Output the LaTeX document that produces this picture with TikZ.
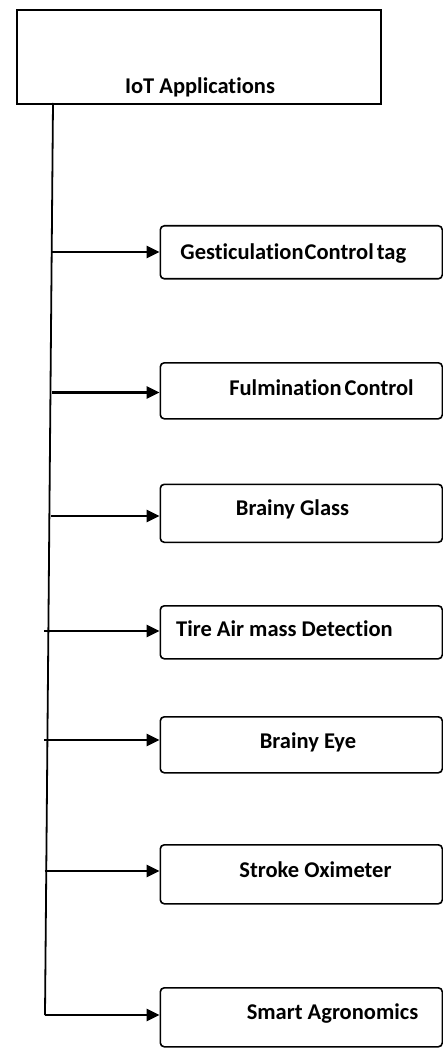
\documentclass[tikz,border=0pt]{standalone}
\usepackage{fontspec}
\setmainfont{Carlito}[Ligatures={NoCommon}]
\usetikzlibrary{arrows.meta}

\begin{document}
\begin{tikzpicture}[x=1pt,y=-1pt,
  rootbox/.style={draw, line width=1.8pt, rectangle, inner sep=0pt,
    minimum width=364pt, minimum height=94pt, anchor=north west},
  appbox/.style={draw, line width=1.6pt, rectangle, rounded corners=4pt,
    inner sep=0pt, minimum width=282pt, anchor=north west},
  lbl/.style={inner sep=0pt, anchor=base,
    font=\fontsize{22.5}{26}\selectfont\bfseries},
  trunk/.style={line width=1.8pt},
  feed/.style={line width=2.6pt, -{Triangle[length=13pt,width=12pt]}}
]
\useasboundingbox (0,0) rectangle (443,1048);

% root box
\node[rootbox] (root) at (16,9) {};
\node[lbl] (rootlbl) at (200,93.3) {IoT Applications};

% application boxes
\node[appbox, minimum height=53pt] (b1) at (159.5,225) {};
\node[appbox, minimum height=56pt] (b2) at (159.5,362) {};
\node[appbox, minimum height=58pt] (b3) at (159.5,483.5) {};
\node[appbox, minimum height=53pt] (b4) at (159.5,605) {};
\node[appbox, minimum height=56pt] (b5) at (159.5,716) {};
\node[appbox, minimum height=59pt] (b6) at (159.5,844) {};
\node[appbox, minimum height=59pt] (b7) at (159.5,987) {};

\node[lbl] (t1) at (293.3,260) {Gesticulation\hspace{-4pt} Control\hspace{-2pt} tag};
\node[lbl] (t2) at (321.5,395.5) {Fulmination\hspace{-2pt} Control};
\node[lbl] (t3) at (292.5,515) {Brainy Glass};
\node[lbl] (t4) at (284.5,636) {Tire Air mass Detection};
\node[lbl] (t5) at (308,748) {Brainy Eye};
\node[lbl] (t6) at (315.5,877) {Stroke Oximeter};
\node[lbl] (t7) at (332.5,1019.5) {Smart Agronomics};

% trunk line
\coordinate (top) at (53,103);
\coordinate (bot) at (45,1015);
\draw[trunk] (top) -- (bot);

% branch start points
\coordinate (s1) at (52,252);
\coordinate (s2) at (52,392.5);
\coordinate (s3) at (51,516);
\coordinate (s4) at (44,631);
\coordinate (s5) at (44,740);
\coordinate (s6) at (44.5,871);
\coordinate (s7) at (44.5,1015);

\foreach \i in {1,...,7}
  \draw[feed] (s\i) -- (s\i -| b\i.west);
\end{tikzpicture}
\end{document}
